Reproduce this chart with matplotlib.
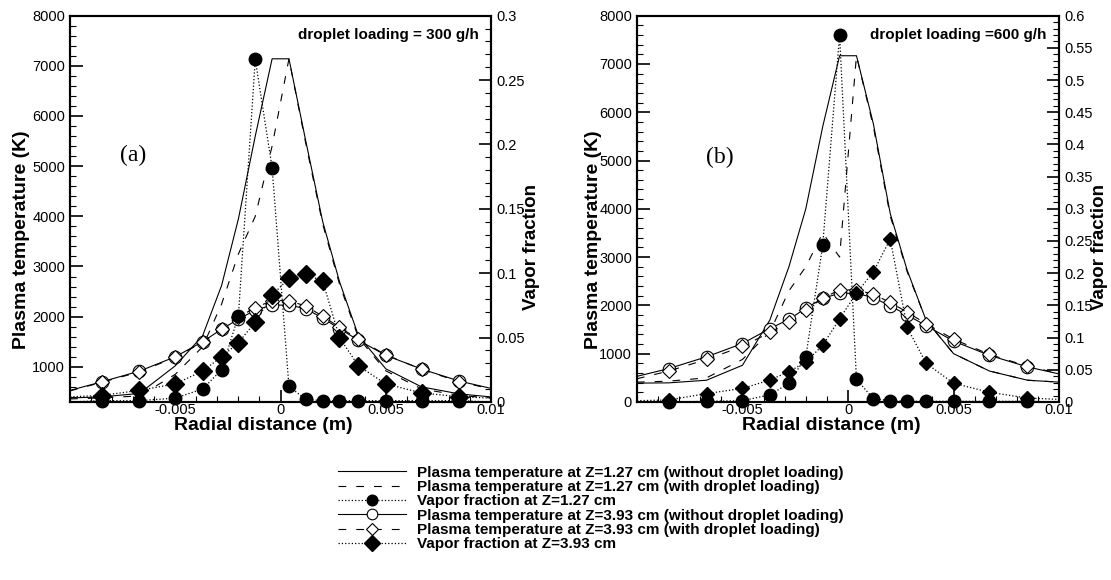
import matplotlib
matplotlib.use("Agg")
import matplotlib.pyplot as plt
from matplotlib.ticker import MultipleLocator, FuncFormatter

plt.rcParams['font.family'] = ['Liberation Sans', 'DejaVu Sans']

# radial grid (m); edges at +-0.01
x = [-0.01, -0.0085, -0.0067, -0.005, -0.0037, -0.0028, -0.002, -0.0012, -0.0004,
     0.0004, 0.0012, 0.002, 0.0028, 0.0037, 0.005, 0.0067, 0.0085, 0.01]

# panel (a): 300 g/h
T127_dry_a = [380, 400, 470, 1020, 1620, 2620, 3950, 5600, 7140, 7140, 5500, 3900, 2700, 1620, 960, 600, 460, 400]
T127_wet_a = [360, 380, 420, 850, 1400, 2250, 3250, 4000, 5400, 7140, 5450, 3850, 2650, 1580, 920, 560, 430, 380]
V127_a = [0.0, 0.001, 0.001, 0.003, 0.010, 0.025, 0.067, 0.266, 0.182, 0.012, 0.002, 0.001, 0.001, 0.001, 0.001, 0.001, 0.001, 0.0]
T393_dry_a = [530, 700, 915, 1200, 1500, 1750, 1950, 2130, 2230, 2230, 2160, 1970, 1760, 1530, 1230, 955, 715, 570]
T393_wet_a = [520, 690, 900, 1190, 1490, 1760, 1990, 2180, 2320, 2320, 2210, 2010, 1790, 1550, 1240, 950, 700, 560]
V393_a = [0.004, 0.005, 0.009, 0.014, 0.024, 0.035, 0.046, 0.062, 0.083, 0.096, 0.099, 0.094, 0.050, 0.028, 0.014, 0.007, 0.004, 0.003]

# panel (b): 600 g/h
T127_dry_b = [390, 395, 450, 760, 1700, 2800, 4000, 5700, 7170, 7170, 5760, 3900, 2730, 1690, 1000, 640, 450, 410]
T127_wet_b = [410, 430, 500, 880, 1450, 2300, 2800, 3500, 3000, 7170, 5700, 3850, 2700, 1690, 1000, 640, 450, 410]
V127_b = [0.0, 0.0, 0.001, 0.002, 0.011, 0.029, 0.070, 0.243, 0.570, 0.035, 0.005, 0.002, 0.001, 0.001, 0.001, 0.001, 0.001, 0.0]
T393_dry_b = [530, 690, 935, 1210, 1520, 1710, 1940, 2145, 2250, 2250, 2160, 1990, 1800, 1580, 1260, 965, 726, 580]
T393_wet_b = [480, 640, 880, 1150, 1440, 1660, 1900, 2150, 2320, 2320, 2230, 2060, 1860, 1620, 1300, 985, 740, 590]
V393_b = [0.002, 0.003, 0.013, 0.021, 0.034, 0.047, 0.062, 0.088, 0.129, 0.169, 0.202, 0.253, 0.116, 0.060, 0.029, 0.015, 0.006, 0.004]

labels = ["Plasma temperature at Z=1.27 cm (without droplet loading)",
          "Plasma temperature at Z=1.27 cm (with droplet loading)",
          "Vapor fraction at Z=1.27 cm",
          "Plasma temperature at Z=3.93 cm (without droplet loading)",
          "Plasma temperature at Z=3.93 cm (with droplet loading)",
          "Vapor fraction at Z=3.93 cm"]

dash = (0, (7, 9))
inner = slice(1, -1)
fmt = FuncFormatter(lambda v, p: '%g' % v)

fig = plt.figure(figsize=(11.11, 5.8), dpi=100)


def panel(rect, T1, T2, V1, T3, T4, V2, ymin, ymax2, tag, tagpos, note, msd, ylx, yrx):
    ax = fig.add_axes(rect)
    h1, = ax.plot(x, T1, '-', color='k', lw=0.8)
    h2, = ax.plot(x, T2, color='k', lw=0.8, linestyle=dash)
    h4, = ax.plot(x, T3, '-', color='k', lw=0.8, marker='o', ms=9, mfc='white', mec='k', mew=0.8,
                  markevery=inner, clip_on=False)
    h5, = ax.plot(x, T4, color='k', lw=0.8, linestyle=dash, marker='D', ms=7, mfc='white', mec='k',
                  mew=0.8, markevery=inner, clip_on=False)
    ax.set_xlim(-0.01, 0.01)
    ax.set_ylim(ymin, 8000)
    ax.set_yticks(range(1000 if ymin > 0 else 0, 8001, 1000))
    ax.yaxis.set_minor_locator(MultipleLocator(200))
    ax.set_xticks([-0.005, 0, 0.005, 0.01])
    ax.xaxis.set_major_formatter(fmt)
    ax.xaxis.set_minor_locator(MultipleLocator(0.001))
    ax.tick_params(which='both', direction='in', top=False, right=False, labelsize=10.5)
    ax.tick_params(which='major', length=9, width=1.2)
    ax.tick_params(which='minor', length=4.5, width=0.8)
    ax.tick_params(axis='x', pad=1)
    ax.set_xlabel("Radial distance (m)", fontsize=14, fontweight='bold')
    ax.xaxis.set_label_coords(0.46, -0.038)
    ax.set_ylabel("Plasma temperature (K)", fontsize=14, fontweight='bold')
    ax.yaxis.set_label_coords(ylx, 0.42)

    ax2 = ax.twinx()
    h3, = ax2.plot(x, V1, ':', color='k', lw=0.9, marker='o', ms=9, mfc='k', mec='k',
                   markevery=inner, clip_on=False)
    h6, = ax2.plot(x, V2, ':', color='k', lw=0.9, marker='D', ms=msd, mfc='k', mec='k',
                   markevery=inner, clip_on=False)
    ax2.set_ylim(0, ymax2)
    ax2.yaxis.set_major_locator(MultipleLocator(0.05))
    ax2.yaxis.set_minor_locator(MultipleLocator(0.01))
    ax2.yaxis.set_major_formatter(fmt)
    ax2.tick_params(which='both', direction='in', left=False, labelsize=10.5)
    ax2.tick_params(which='major', length=9, width=1.2)
    ax2.tick_params(which='minor', length=4.5, width=0.8)
    ax2.set_ylabel("Vapor fraction", fontsize=13.5, fontweight='bold')
    ax2.yaxis.set_label_coords(yrx, 0.40)
    for a in (ax, ax2):
        for s in a.spines.values():
            s.set_linewidth(1.5)

    ax.text(tagpos[0], tagpos[1], tag, transform=ax.transAxes, fontsize=17,
            family=['Liberation Serif', 'DejaVu Serif'], ha='center', va='center')
    ax2.text(0.97, 0.95, note, transform=ax.transAxes, fontsize=11, fontweight='bold',
             ha='right', va='center')
    return [h1, h2, h3, h4, h5, h6]


hs = panel([0.063, 0.307, 0.379, 0.666], T127_dry_a, T127_wet_a, V127_a, T393_dry_a, T393_wet_a,
           V393_a, 300, 0.3, "(a)", (0.15, 0.637), "droplet loading = 300 g/h", 9, -0.095, 1.076)
panel([0.5733, 0.307, 0.380, 0.666], T127_dry_b, T127_wet_b, V127_b, T393_dry_b, T393_wet_b,
      V393_b, 0, 0.6, "(b)", (0.197, 0.632), "droplet loading =600 g/h", 7.5, -0.083, 1.076)

fig.legend(hs, labels, loc='upper left', bbox_to_anchor=(0.304, 0.197), frameon=False,
           prop={'weight': 'bold', 'size': 11}, handlelength=4.5, handletextpad=0.7,
           labelspacing=0.02, borderpad=0, borderaxespad=0, markerscale=0.85)

fig.savefig("out.png", dpi=100)
